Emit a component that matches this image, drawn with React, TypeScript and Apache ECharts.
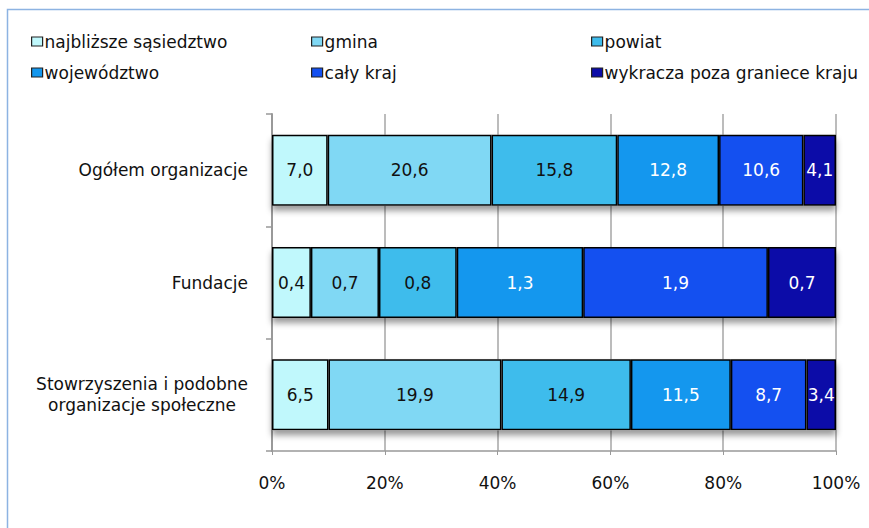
import React, { useEffect, useRef } from "react";
import * as echarts from "echarts";

const categories = [
  "Ogółem organizacje",
  "Fundacje",
  "Stowrzyszenia i podobne\norganizacje społeczne",
];
const seriesNames = [
  "najbliższe sąsiedztwo",
  "gmina",
  "powiat",
  "województwo",
  "cały kraj",
  "wykracza poza graniece kraju",
];
const najblizsze = [7.0, 0.4, 6.5];
const gmina = [20.6, 0.7, 19.9];
const powiat = [15.8, 0.8, 14.9];
const wojewodztwo = [12.8, 1.3, 11.5];
const calyKraj = [10.6, 1.9, 8.7];
const zagranica = [4.1, 0.7, 3.4];
const xTicks = [0, 20, 40, 60, 80, 100];

const rawSeries = [najblizsze, gmina, powiat, wojewodztwo, calyKraj, zagranica];
const colors = ["#C0F8FC", "#80D8F4", "#3EBCEC", "#1497EE", "#1450F0", "#0C0CA8"];
const labelColors = ["#111", "#111", "#111", "#fff", "#fff", "#fff"];
const legendPos = [
  [31, 33],
  [311, 33],
  [591, 33],
  [31, 64],
  [311, 64],
  [591, 64],
];
const FONT = "DejaVu Sans";

export default function App() {
  const ref = useRef<HTMLDivElement>(null);
  useEffect(() => {
    document.body.style.margin = "0";
    const chart = echarts.init(ref.current!, null, { renderer: "svg" });
    const totals = categories.map((_, i) =>
      rawSeries.reduce((s, arr) => s + arr[i], 0)
    );
    const stacked = rawSeries.map((arr, si) => ({
      name: seriesNames[si],
      type: "bar",
      stack: "total",
      barWidth: 71,
      barGap: "-100%",
      z: 3,
      data: arr.map((v, i) => (v / totals[i]) * 100),
      itemStyle: { color: colors[si], borderColor: "#000", borderWidth: 1.5 },
      label: {
        show: true,
        position: "inside",
        color: labelColors[si],
        fontSize: 17,
        fontFamily: FONT,
        formatter: (p: any) => arr[p.dataIndex].toFixed(1).replace(".", ","),
      },
      emphasis: { disabled: true },
    }));
    const shadow = {
      name: "_shadow",
      type: "bar",
      barWidth: 71,
      barGap: "-100%",
      z: 2,
      silent: true,
      data: categories.map(() => xTicks[xTicks.length - 1]),
      itemStyle: {
        color: "#fff",
        shadowColor: "rgba(0,0,0,0.4)",
        shadowBlur: 6,
        shadowOffsetY: 5,
      },
      label: { show: false },
    };
    const legends = seriesNames.map((n, i) => ({
      data: [n],
      left: legendPos[i][0],
      top: legendPos[i][1],
      padding: 0,
      icon: "rect",
      itemWidth: 11,
      itemHeight: 9,
      selectedMode: false,
      itemStyle: { borderColor: "#222", borderWidth: 1.2 },
      textStyle: { fontSize: 17, fontFamily: FONT, color: "#111", padding: [0, 0, 0, -3] },
    }));
    chart.setOption({
      animation: false,
      backgroundColor: "#fff",
      textStyle: { fontFamily: FONT },
      graphic: [
        {
          type: "rect",
          shape: { x: 7.5, y: 9.5, width: 1000, height: 1000 },
          style: { fill: "none", stroke: "#8DB3E2", lineWidth: 1.5 },
          silent: true,
        },
      ],
      legend: legends,
      grid: { left: 272, right: 33, top: 114, bottom: 77 },
      xAxis: {
        type: "value",
        min: xTicks[0],
        max: xTicks[xTicks.length - 1],
        interval: xTicks[1] - xTicks[0],
        axisLine: { show: true, lineStyle: { color: "#999", width: 1.5 } },
        axisTick: { show: true, length: 4, lineStyle: { color: "#999" } },
        splitLine: { show: true, lineStyle: { color: "#A6A6A6", width: 1.5 } },
        axisLabel: {
          formatter: "{value}%",
          fontSize: 17,
          fontFamily: FONT,
          color: "#111",
          margin: 23,
        },
      },
      yAxis: {
        type: "category",
        inverse: true,
        data: categories,
        axisLine: { show: true, lineStyle: { color: "#999", width: 2 } },
        axisTick: { show: true, length: 6, lineStyle: { color: "#999", width: 1.5 } },
        axisLabel: {
          margin: 24,
          fontSize: 17,
          fontFamily: FONT,
          color: "#111",
          formatter: (v: string) =>
            v.includes("\n")
              ? v
                  .split("\n")
                  .map((l) => `{c|${l}}`)
                  .join("\n")
              : v,
          rich: {
            c: {
              width: 212,
              align: "center",
              fontSize: 17,
              fontFamily: FONT,
              color: "#111",
              lineHeight: 21,
            },
          },
        },
      },
      series: [shadow, ...stacked],
    });
    return () => chart.dispose();
  }, []);
  return <div ref={ref} style={{ width: 869, height: 528 }} />;
}
